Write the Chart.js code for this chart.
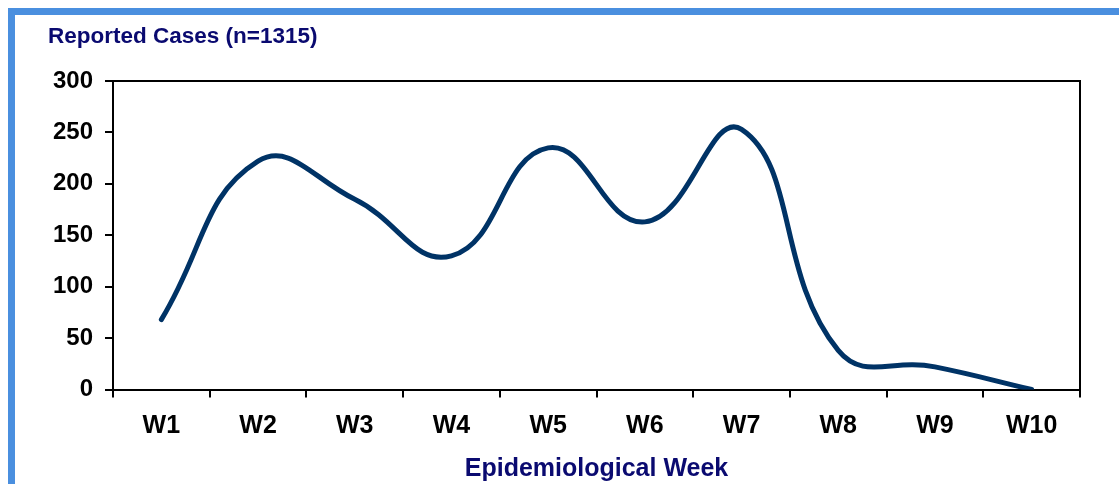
<!DOCTYPE html>
<html>
<head>
<meta charset="utf-8">
<script src="https://cdn.jsdelivr.net/npm/chart.js@4.4.1/dist/chart.umd.min.js"></script>
<style>
html, body { margin: 0; padding: 0; background: #fff; overflow: hidden; }
#frame {
    position: absolute; left: 8px; top: 8px; width: 1300px; height: 700px;
    border-top: 7px solid #4a8fdf; border-left: 7px solid #4a8fdf;
}
#wrap { position: absolute; left: 0; top: 0; width: 1119px; height: 484px; }
</style>
</head>
<body>
<div id="frame"></div>
<div id="wrap"><canvas id="myChart"></canvas></div>
<script>
// weekly reported cases
const weeks = ['W1', 'W2', 'W3', 'W4', 'W5', 'W6', 'W7', 'W8', 'W9', 'W10'];
const cases = [68, 222, 185, 130, 235, 163, 253, 38, 22, 0];
const yTicks = [0, 50, 100, 150, 200, 250, 300];

const fontFam = "'Liberation Sans', Arial, sans-serif";
const navy = '#0a0a70';

// chart heading + the black box on top/right of the plot
const extras = {
    id: 'extras',
    afterDraw(chart) {
        const c = chart.ctx;
        const a = chart.chartArea;
        c.save();
        c.strokeStyle = '#000';
        c.lineWidth = 2;
        c.beginPath();
        c.moveTo(a.left, a.top);
        c.lineTo(a.right, a.top);
        c.lineTo(a.right, a.bottom);
        c.stroke();
        c.fillStyle = navy;
        c.font = 'bold 22.5px ' + fontFam;
        c.textBaseline = 'middle';
        c.textAlign = 'left';
        c.fillText('Reported Cases (n=1315)', 48, 37);
        c.restore();
    }
};

const ctx = document.getElementById('myChart').getContext('2d');

const data = {
    labels: weeks,
    datasets: [{
        label: 'Reported Cases',
        data: cases,
        fill: false,
        borderColor: '#003366',
        borderWidth: 5,
        borderCapStyle: 'round',
        pointRadius: 0,
        tension: 0.45
    }]
};

const config = {
    type: 'line',
    data: data,
    options: {
        responsive: true,
        maintainAspectRatio: false,
        animation: false,
        layout: {
            padding: { top: 81, right: 39, left: 0, bottom: 0 }
        },
        scales: {
            x: {
                offset: true,
                afterFit: function(scale) { scale.height = 94.5; },
                grid: {
                    offset: true,
                    drawOnChartArea: false,
                    tickLength: 8,
                    color: '#000',
                    lineWidth: 2
                },
                border: { color: '#000', width: 2 },
                ticks: {
                    padding: 14,
                    color: '#000',
                    font: { family: fontFam, size: 25, weight: 'bold' }
                },
                title: {
                    display: true,
                    text: 'Epidemiological Week',
                    color: navy,
                    padding: { top: 0, bottom: 0 },
                    font: { family: fontFam, size: 25, weight: 'bold' }
                }
            },
            y: {
                min: 0,
                max: 300,
                afterFit: function(scale) { scale.width = 113; },
                afterBuildTicks: function(scale) {
                    scale.ticks = yTicks.map(v => ({ value: v }));
                },
                grid: {
                    drawOnChartArea: false,
                    tickLength: 8,
                    color: '#000',
                    lineWidth: 2
                },
                border: { color: '#000', width: 2 },
                ticks: {
                    padding: 12,
                    color: '#000',
                    font: { family: fontFam, size: 24, weight: 'bold' }
                }
            }
        },
        plugins: {
            legend: { display: false },
            tooltip: { enabled: false }
        }
    },
    plugins: [extras]
};

const myChart = new Chart(ctx, config);
</script>
</body>
</html>
